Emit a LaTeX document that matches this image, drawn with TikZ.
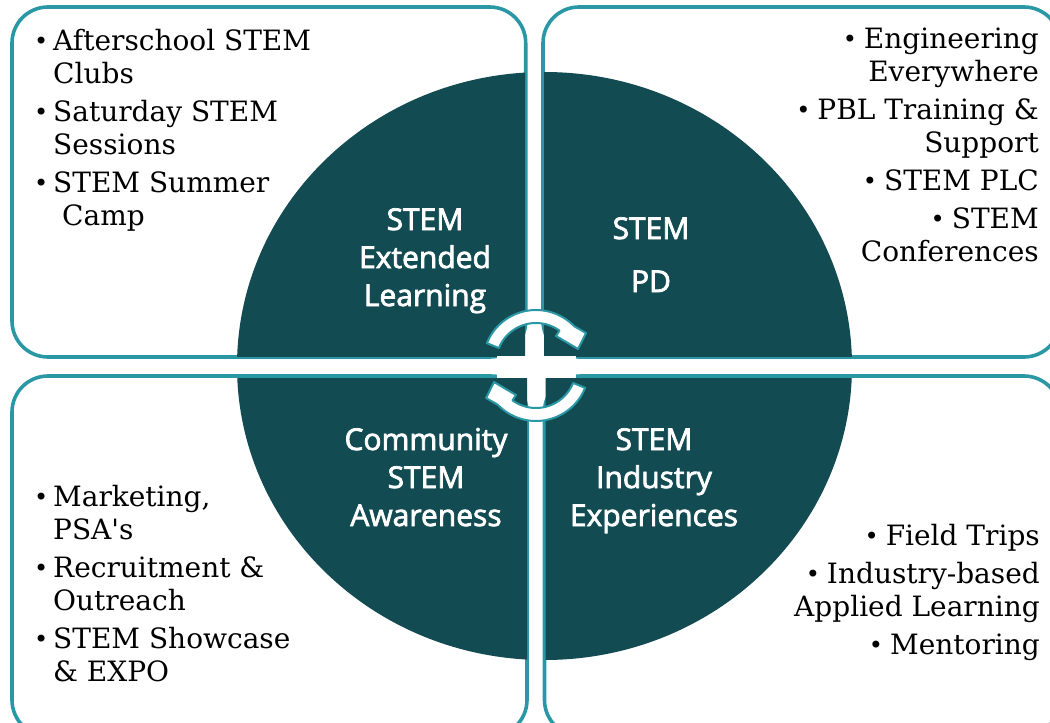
\documentclass[tikz,border=0pt]{standalone}
\usepackage{fontspec}
\setmainfont{DejaVu Serif}
\newfontfamily\quadfont[FakeBold=2.5]{Open Sans}
\definecolor{rim}{HTML}{2A98A4}
\definecolor{core}{HTML}{134B52}
% a list bullet, with a hanging indent and the matching indent for wrapped lines
\newcommand{\dotmark}{\raisebox{0.8pt}{\fontsize{24}{24}\selectfont •}}
\newcommand{\itembul}{\makebox[19pt][l]{\dotmark}}
\newcommand{\itemcont}{\hspace*{19pt}}
\newcommand{\rbul}{\dotmark\hspace{7pt}}
\begin{document}
\begin{tikzpicture}[x=1pt,y=-1pt,
  panel/.style={draw=rim, line width=3.6pt, rounded corners=36pt},
  quad/.style={fill=core},
  listtext/.style={inner sep=0pt, font=\fontsize{28}{33}\selectfont},
  quadlabel/.style={inner sep=0pt, text=white, anchor=base,
                    font=\quadfont\fontsize{30}{38}\selectfont},
  cyclearrow/.style={fill=white, draw=rim, line width=2pt, line join=round}]
\useasboundingbox (0,0) rectangle (1050,723);
\clip (0,0) rectangle (1050,723);

% four outlined panels behind the disc
\draw[panel] (12,7) rectangle (525.7,357);
\draw[panel] (543,7) rectangle (1060,357);
\draw[panel] (12,376) rectangle (527,736);
\draw[panel] (544.5,376) rectangle (1060,736);

% the disc, split into four quadrants
\foreach \xa/\ya/\xb/\yb in {0/0/525/356, 544/0/1050/356, 0/378/527/723, 545.5/378/1050/723}{
  \begin{scope}
    \clip (\xa,\ya) rectangle (\xb,\yb);
    \fill[quad] (544.5,366) ellipse [x radius=307.5pt, y radius=294pt];
  \end{scope}
}

% clear the middle of the cross under the arrows
\fill[white] (497,355.5) rectangle (576,378);

% circular arrows
\begin{scope}[shift={(536,363)}]
  \draw[cyclearrow] plot[domain=-158:-44, samples=40] ({53*cos(\x)},{53*sin(\x)})
    -- (50,-30) -- (42,-14) -- (20,-27)
    -- plot[domain=-54:-158, samples=40] ({40*cos(\x)},{40*sin(\x)}) -- cycle;
\end{scope}
\begin{scope}[shift={(536,368)}, rotate=180]
  \draw[cyclearrow] plot[domain=-158:-44, samples=40] ({53*cos(\x)},{53*sin(\x)})
    -- (50,-30) -- (42,-14) -- (20,-27)
    -- plot[domain=-54:-158, samples=40] ({40*cos(\x)},{40*sin(\x)}) -- cycle;
\end{scope}

% quadrant titles
\node[quadlabel] (q1) at (425,230) {\begin{tabular}[t]{@{}c@{}}STEM\\Extended\\Learning\end{tabular}};
\node[quadlabel] (q2) at (651,239) {\begin{tabular}[t]{@{}c@{}}STEM\\[15pt]PD\end{tabular}};
\node[quadlabel] (q3) at (426,450) {\begin{tabular}[t]{@{}c@{}}Community\\STEM\\Awareness\end{tabular}};
\node[quadlabel] (q4) at (654,450) {\begin{tabular}[t]{@{}c@{}}STEM\\Industry\\Experiences\end{tabular}};

% panel lists
\node[listtext, anchor=base west] (l1) at (34,50) {\begin{tabular}[t]{@{}l@{}}
  \itembul Afterschool STEM\\ \itemcont Clubs\\[5pt]
  \itembul Saturday STEM\\ \itemcont Sessions\\[5pt]
  \itembul STEM Summer\\ \itemcont\hspace*{9pt}Camp\end{tabular}};
\node[listtext, anchor=base east] (l2) at (1039,48) {\begin{tabular}[t]{@{}r@{}}
  \rbul Engineering\\ Everywhere\\[5pt]
  \rbul PBL Training \&\\ Support\\[5pt]
  \rbul STEM PLC\\[5pt]
  \rbul STEM\\ Conferences\end{tabular}};
\node[listtext, anchor=base west] (l3) at (34,506) {\begin{tabular}[t]{@{}l@{}}
  \itembul Marketing,\\ \itemcont PSA\textquotesingle s\\[5pt]
  \itembul Recruitment \&\\ \itemcont Outreach\\[5pt]
  \itembul STEM Showcase\\ \itemcont\& EXPO\end{tabular}};
\node[listtext, anchor=base east] (l4) at (1040,545) {\begin{tabular}[t]{@{}r@{}}
  \rbul Field Trips\\[5pt]
  \rbul Industry-based\\ Applied Learning\\[5pt]
  \rbul Mentoring\end{tabular}};
\end{tikzpicture}
\end{document}
